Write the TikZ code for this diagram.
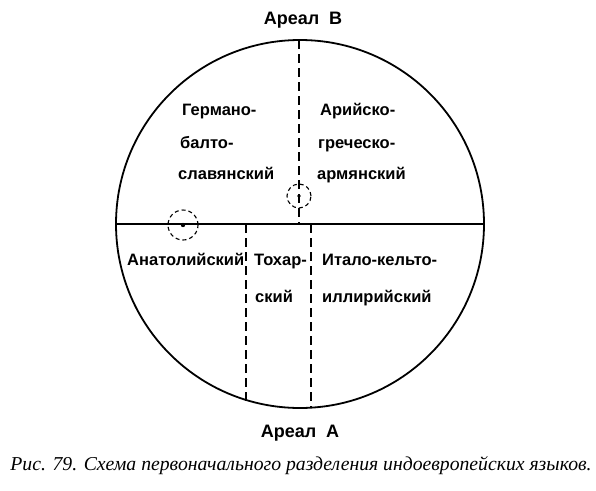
\documentclass[tikz,border=0pt]{standalone}
\usepackage{fontspec}
\setmainfont{Liberation Serif}
\newfontfamily\lblfont{Liberation Sans}
\begin{document}
\begin{tikzpicture}[x=1pt,y=-1pt,
  lbl/.style={font=\lblfont\bfseries\fontsize{16.5}{16.5}\selectfont, inner sep=0pt, anchor=base west},
  ttl/.style={font=\lblfont\bfseries\fontsize{18}{18}\selectfont, inner sep=0pt, anchor=base},
  dsh/.style={line width=1.6pt, dash pattern=on 9pt off 5pt},
  smallc/.style={line width=1.1pt, dash pattern=on 4pt off 3pt}]
\useasboundingbox (0,0) rectangle (596,490);
\fill[white] (0,0) rectangle (596,490);
\coordinate (O) at (300,224);
\draw[line width=1.8pt] (O) circle (184);
\coordinate (L) at (116,224);
\coordinate (R) at (484,224);
\draw[line width=1.8pt] (L) -- (R);
\coordinate (T) at (299,40);
\coordinate (M) at (299,224);
\draw[dsh] (T) -- (M);
\coordinate (A1) at (246,224);
\coordinate (A2) at (246,405);
\draw[dsh] (A1) -- (A2);
\coordinate (B1) at (311,224);
\coordinate (B2) at (311,408);
\draw[dsh] (B1) -- (B2);
\node[smallc, draw, circle, minimum size=30pt, inner sep=0pt] (c1) at (183,225) {};
\fill (c1.center) circle (2.2);
\node[smallc, draw, circle, minimum size=24pt, inner sep=0pt] (c2) at (299,196) {};
\fill (c2.center) circle (1.8);
\node[ttl] (areaB) at (303,24) {Ареал\ \ В};
\node[ttl] (areaA) at (300,437) {Ареал\ \ А};
\node[lbl] (g1) at (182,115) {Германо-};
\node[lbl] (g2) at (180,148) {балто-};
\node[lbl] (g3) at (178,179) {славянский};
\node[lbl] (a1) at (320,115) {Арийско-};
\node[lbl] (a2) at (318,148) {греческо-};
\node[lbl] (a3) at (317,179) {армянский};
\node[lbl] (an) at (127,265) {Анатолийский};
\node[lbl] (t1) at (254,265) {Тохар-};
\node[lbl] (t2) at (255,302) {ский};
\node[lbl] (i1) at (322,265) {Итало-кельто-};
\node[lbl] (i2) at (322,302) {иллирийский};
\node[font=\itshape\fontsize{19.7}{19.7}\selectfont, inner sep=0pt, anchor=base] (cap) at (301,470) {Рис. 79. Схема первоначального разделения индоевропейских языков.};
\end{tikzpicture}
\end{document}
